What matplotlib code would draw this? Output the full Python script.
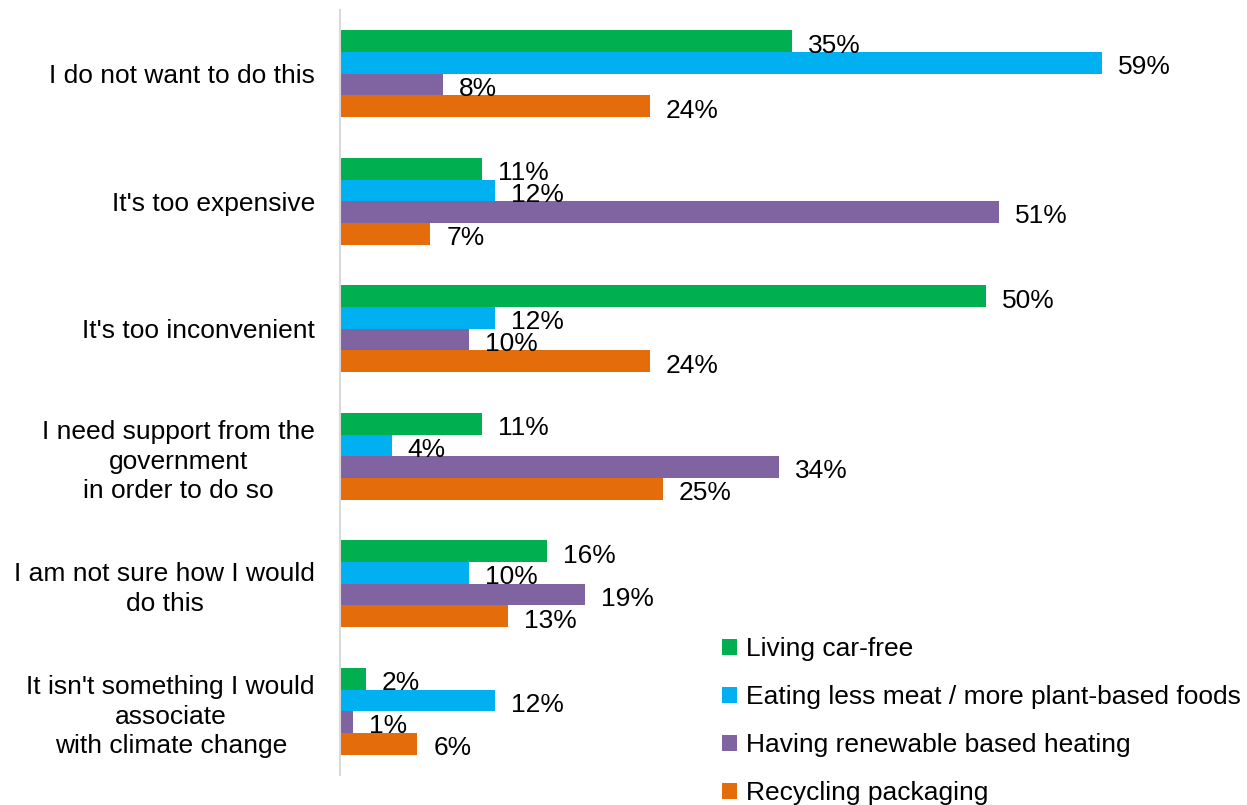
import matplotlib
matplotlib.use("Agg")
import matplotlib.pyplot as plt
import numpy as np

plt.rcParams['font.family'] = ['Liberation Sans', 'DejaVu Sans']

categories = [
    "I do not want to do this",
    "It's too expensive",
    "It's too inconvenient",
    "I need support from the\ngovernment\nin order to do so",
    "I am not sure how I would\ndo this",
    "It isn't something I would\nassociate\nwith climate change",
]
series_names = [
    "Living car-free",
    "Eating less meat / more plant-based foods",
    "Having renewable based heating",
    "Recycling packaging",
]
car_free = [35, 11, 50, 11, 16, 2]
less_meat = [59, 12, 12, 4, 10, 12]
renewable_heating = [8, 51, 10, 34, 19, 1]
recycling = [24, 7, 24, 25, 13, 6]
colors = ["#00B050", "#00B0F0", "#8064A2", "#E46C0A"]

series = [car_free, less_meat, renewable_heating, recycling]

W, H = 1247, 805
fig = plt.figure(figsize=(W / 100, H / 100), dpi=100)
ax = fig.add_axes([340 / W, 1 - 775 / H, 904 / W, 765 / H])

FS = 19
bar_h = 0.17
y = np.arange(len(categories))
for k, (vals, name, col) in enumerate(zip(series, series_names, colors)):
    pos = y + (k - 1.5) * bar_h
    ax.barh(pos, vals, height=bar_h, color=col, label=name, edgecolor='none')
    for p, v in zip(pos, vals):
        ax.annotate(f"{v}%", xy=(v, p), xytext=(11.5, -8.2),
                    textcoords='offset points', ha='left', va='baseline',
                    fontsize=FS, color='black')

ax.set_xlim(0, 70)
ax.set_ylim(len(categories) - 0.5, -0.5)
ax.set_yticks(y)
ax.set_yticklabels(categories, fontsize=FS, multialignment='center',
                   linespacing=1.3)
ax.tick_params(axis='y', length=0, pad=18)
ax.set_xticks([])
for s in ['top', 'right', 'bottom']:
    ax.spines[s].set_visible(False)
ax.spines['left'].set_color('#D9D9D9')
ax.spines['left'].set_linewidth(1.5)

leg = ax.legend(loc='upper left', bbox_to_anchor=(722 / W, 1 - 637 / H),
                bbox_transform=fig.transFigure, frameon=False, fontsize=FS,
                handlelength=0.55, handleheight=0.55, handletextpad=0.35,
                labelspacing=0.91, borderaxespad=0, borderpad=0)

fig.savefig("out.png", dpi=100)
